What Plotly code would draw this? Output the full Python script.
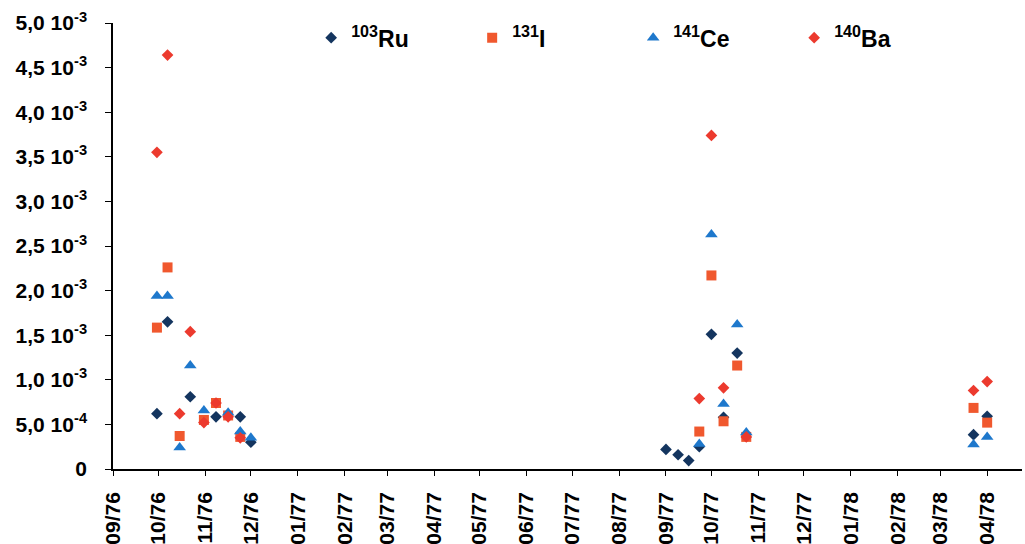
import plotly.graph_objects as go

# Sampling dates (deposition measurements)
dates = [
    "1976-09-30", "1976-10-07", "1976-10-15", "1976-10-22", "1976-10-31",
    "1976-11-08", "1976-11-16", "1976-11-24", "1976-12-01",
    "1977-09-01", "1977-09-09", "1977-09-16", "1977-09-23", "1977-10-01",
    "1977-10-09", "1977-10-18", "1977-10-24",
    "1978-03-23", "1978-04-01",
]

# Activity per nuclide (None = not detected)
ru103 = [6.2e-4, 1.65e-3, None, 8.1e-4, None, 5.85e-4, None, 5.85e-4, 3.0e-4,
         2.2e-4, 1.6e-4, 9.5e-5, 2.5e-4, 1.51e-3, 5.8e-4, 1.30e-3, None,
         3.85e-4, 5.9e-4]
i131 = [1.585e-3, 2.26e-3, 3.7e-4, None, 5.5e-4, 7.4e-4, 6.0e-4, 3.6e-4, None,
        None, None, None, 4.2e-4, 2.17e-3, 5.35e-4, 1.16e-3, 3.6e-4,
        6.85e-4, 5.2e-4]
ce141 = [1.94e-3, 1.94e-3, 2.4e-4, 1.16e-3, 6.55e-4, None, 6.3e-4, 4.2e-4, 3.5e-4,
         None, None, None, 2.8e-4, 2.63e-3, 7.3e-4, 1.62e-3, 4.1e-4,
         2.75e-4, 3.6e-4]
ba140 = [3.55e-3, 4.64e-3, 6.2e-4, 1.54e-3, 5.2e-4, 7.4e-4, 5.85e-4, 3.5e-4, None,
         None, None, None, 7.9e-4, 3.74e-3, 9.1e-4, None, 3.6e-4,
         8.8e-4, 9.8e-4]

series_names = ["<sup>103</sup>Ru", "<sup>131</sup>I", "<sup>141</sup>Ce", "<sup>140</sup>Ba"]

# Y-axis ticks in "m,n 10^e" notation
y_tickvals = [0, 5e-4, 1e-3, 1.5e-3, 2e-3, 2.5e-3, 3e-3, 3.5e-3, 4e-3, 4.5e-3, 5e-3]
y_ticktext = ["0", "5,0 10<sup>-4</sup>", "1,0 10<sup>-3</sup>", "1,5 10<sup>-3</sup>",
              "2,0 10<sup>-3</sup>", "2,5 10<sup>-3</sup>", "3,0 10<sup>-3</sup>",
              "3,5 10<sup>-3</sup>", "4,0 10<sup>-3</sup>", "4,5 10<sup>-3</sup>",
              "5,0 10<sup>-3</sup>"]

FONT = "Liberation Sans, Arial, sans-serif"

styles = [
    dict(symbol="diamond", color="#14355f", size=9),
    dict(symbol="square", color="#f0582e", size=10),
    dict(symbol="triangle-up", color="#1e78cc", size=11),
    dict(symbol="diamond", color="#ec3a2e", size=9),
]

fig = go.Figure()
for name, vals, st in zip(series_names, [ru103, i131, ce141, ba140], styles):
    fig.add_trace(go.Scatter(
        x=dates, y=vals, mode="markers", name=name,
        marker=dict(symbol=st["symbol"], color=st["color"], size=st["size"],
                    line=dict(width=0)),
    ))

fig.update_layout(
    width=1025, height=544,
    margin=dict(l=113, r=3, t=23, b=75),
    paper_bgcolor="white", plot_bgcolor="white",
    font=dict(family=FONT, size=21, color="black", weight="bold"),
    showlegend=True,
    legend=dict(
        orientation="h", x=0.218, y=0.967, xanchor="left", yanchor="middle",
        entrywidth=116, entrywidthmode="pixels",
        font=dict(family=FONT, size=23, color="black", weight="bold"),
        bgcolor="rgba(0,0,0,0)", itemsizing="trace",
    ),
    xaxis=dict(
        type="date", range=["1976-09-01", "1978-04-24"],
        tick0="1976-09-01", dtick="M1", tickformat="%m/%y",
        tickangle=-90, ticks="outside", ticklen=5, tickcolor="black",
        showline=True, linecolor="black", linewidth=1.5,
        showgrid=False, zeroline=False, automargin=False,
        tickfont=dict(family=FONT, size=21, color="black", weight="bold"),
        ticklabelstandoff=8,
    ),
    yaxis=dict(
        range=[0, 5e-3], tickvals=y_tickvals, ticktext=y_ticktext,
        ticks="outside", ticklen=6, tickcolor="black",
        showline=True, linecolor="black", linewidth=1.5,
        showgrid=False, zeroline=False, automargin=False,
        tickfont=dict(family=FONT, size=21, color="black", weight="bold"),
        ticklabelstandoff=14,
    ),
)

fig.write_html("out.html")
